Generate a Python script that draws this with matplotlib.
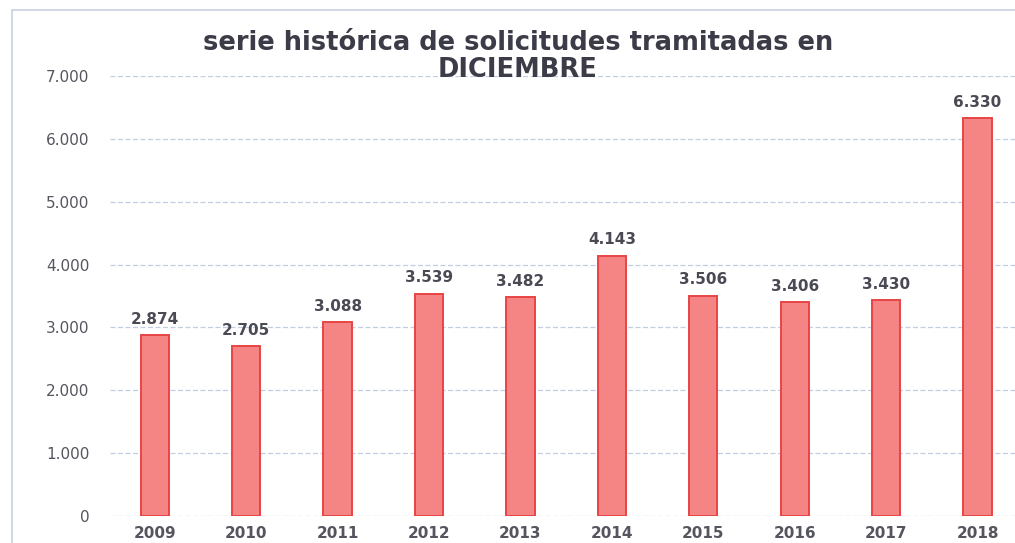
import matplotlib
matplotlib.use("Agg")
import matplotlib.pyplot as plt
from matplotlib.patches import Rectangle
from matplotlib.ticker import FuncFormatter

years = ["2009", "2010", "2011", "2012", "2013", "2014", "2015", "2016", "2017", "2018"]
values = [2874, 2705, 3088, 3539, 3482, 4143, 3506, 3406, 3430, 6330]
yticks = [0, 1000, 2000, 3000, 4000, 5000, 6000, 7000]
title = "serie histórica de solicitudes tramitadas en\nDICIEMBRE"

def fmt(v):
    return f"{int(v):,}".replace(",", ".")

FAM = ['DejaVu Sans']
plt.rcParams['font.family'] = FAM
fig = plt.figure(figsize=(10.15, 5.43), dpi=100)
ax = fig.add_axes([0.1084, 0.0497, 0.8916, 0.8103])

x = list(range(len(years)))
ax.bar(x, values, width=0.31, color="#F58484", edgecolor="#E84545", linewidth=1.4, zorder=3)
for xi, v in zip(x, values):
    ax.text(xi, v + 130, fmt(v), ha="center", va="bottom", fontsize=11,
            fontweight="bold", color="#4a4a55", zorder=4, family=FAM)

ax.set_xlim(-0.49, 9.41)
ax.set_ylim(0, 7000)
ax.set_yticks(yticks)
ax.yaxis.set_major_formatter(FuncFormatter(lambda v, p: fmt(v)))
ax.set_xticks(x)
ax.set_xticklabels(years)
ax.tick_params(axis="both", length=0, labelsize=11, labelcolor="#55555f")
ax.tick_params(axis="y", pad=15)
ax.tick_params(axis="x", pad=7)
for lab in ax.get_xticklabels() + ax.get_yticklabels():
    lab.set_family(FAM)
for lab in ax.get_xticklabels():
    lab.set_fontweight("bold")
ax.grid(axis="y", color="#c3cde0", linestyle=(0, (4, 2)), linewidth=0.9, zorder=0)
for s in ax.spines.values():
    s.set_visible(False)

fig.text(0.51, 0.945, title, ha="center", va="top", fontsize=18.5, fontweight="bold",
         color="#3c3c48", linespacing=1.05, family=FAM)

fig.patches.append(Rectangle((0.012, -0.1), 1.2, 1.082, transform=fig.transFigure,
                             fill=False, edgecolor="#c8d0e0", linewidth=1.2))

fig.savefig("out.png", dpi=100)
